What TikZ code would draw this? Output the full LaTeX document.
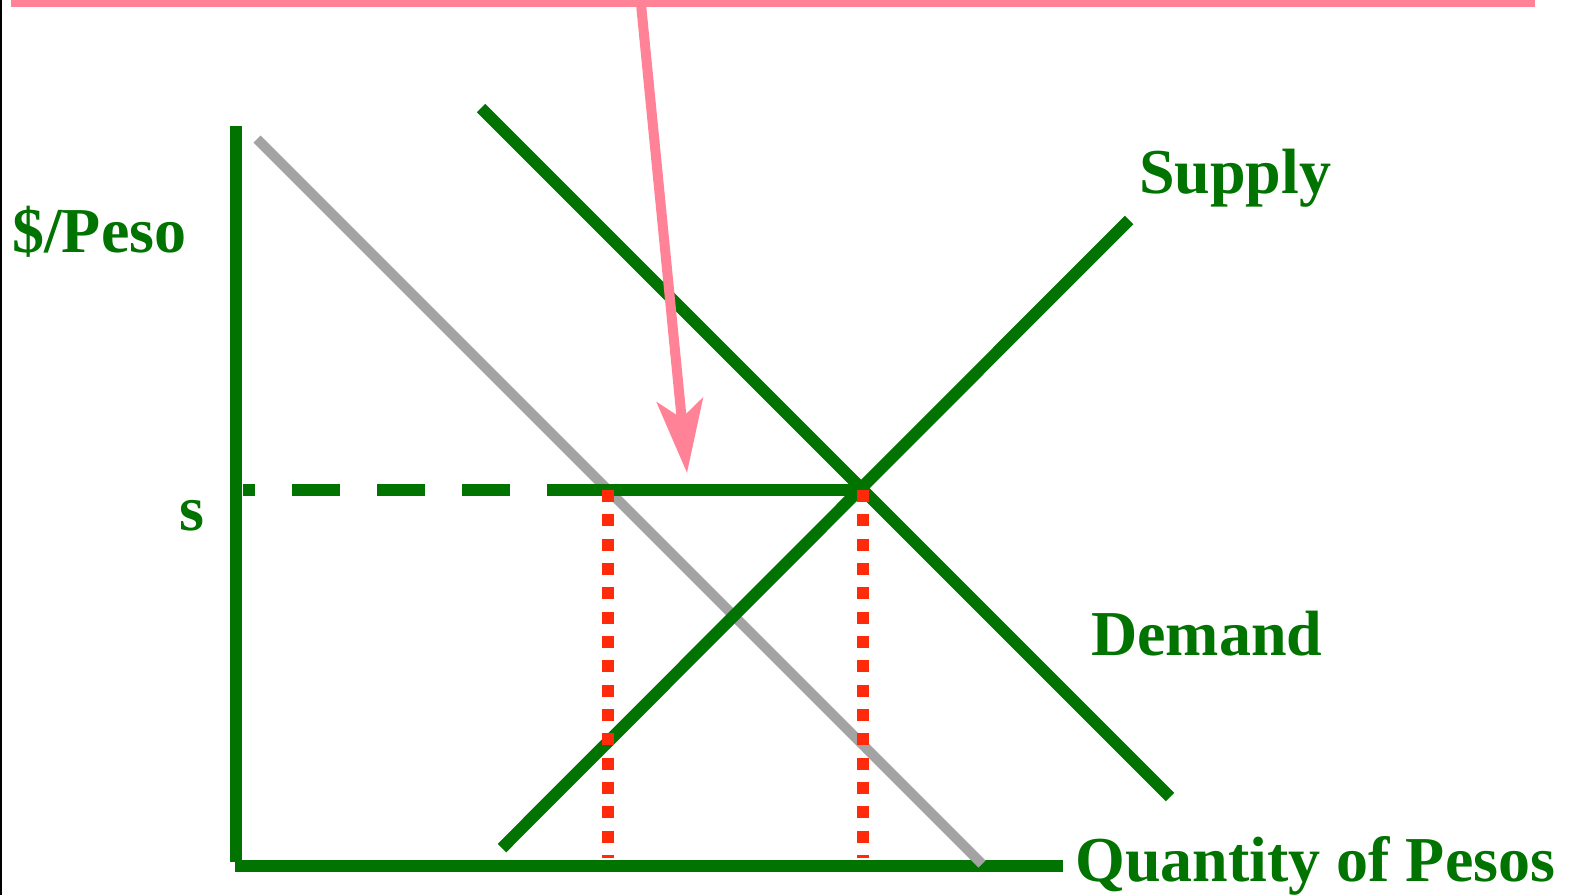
\documentclass[tikz,border=0pt]{standalone}
\usepackage{fontspec}
\setmainfont{Liberation Serif}
\usetikzlibrary{arrows.meta}
\definecolor{cgreen}{RGB}{0,115,0}
\definecolor{cgray}{RGB}{163,163,163}
\definecolor{cred}{RGB}{255,42,10}
\definecolor{cpink}{RGB}{255,130,150}
\begin{document}
\begin{tikzpicture}[x=1pt,y=-1pt,
  gline/.style={cgreen,line width=12pt},
  grayline/.style={cgray,line width=10pt},
  reddots/.style={cred,line width=12pt,dash pattern=on 12pt off 12.33pt},
  pinkline/.style={cpink,line width=7pt},
  pinkarrow/.style={cpink,line width=10pt,-{Stealth[length=73pt,width=46pt,inset=18pt]}},
  lbl/.style={anchor=base west,inner sep=0pt,text=cgreen,font=\fontsize{64}{70}\selectfont\bfseries}]
\useasboundingbox (0,0) rectangle (1578,895);
% coordinates
\coordinate (bl1) at (1.2,0);
\coordinate (bl2) at (1.2,895);
\coordinate (yTop) at (235.5,126);
\coordinate (yBot) at (235.5,862);
\coordinate (xL) at (235,866);
\coordinate (xR) at (1063,866);
\coordinate (gA) at (257,139);
\coordinate (gB) at (982,864);
\coordinate (dA) at (481,108);
\coordinate (dB) at (1170,797);
\coordinate (sA) at (502,848);
\coordinate (sB) at (1129,220);
\coordinate (hA) at (243,490);
\coordinate (hM) at (595,490);
\coordinate (eq) at (862,490);
\coordinate (rL1) at (607.5,490);
\coordinate (rL2) at (607.5,858);
\coordinate (rR1) at (863,490);
\coordinate (rR2) at (863,858);
\coordinate (pT1) at (11,3.5);
\coordinate (pT2) at (1535,3.5);
\coordinate (aS) at (641,4);
\coordinate (aT) at (687,473);
% left border
\draw[black,line width=2.4pt] (bl1) -- (bl2);
% axes
\draw[gline] (yTop) -- (yBot);
\draw[gline] (xL) -- (xR);
% gray shifted demand
\draw[grayline] (gA) -- (gB);
% dashed price line
\draw[gline,dash pattern=on 48pt off 37pt,dash phase=36pt] (hA) -- (eq);
\draw[gline] (hM) -- (eq);
% demand and supply
\draw[gline] (dA) -- (dB);
\draw[gline] (sA) -- (sB);
% red dotted quantity lines
\draw[reddots] (rL1) -- (rL2);
\draw[reddots] (rR1) -- (rR2);
% pink callout
\draw[pinkline] (pT1) -- (pT2);
\draw[pinkarrow] (aS) -- (aT);
% labels
\node[lbl] (lp) at (12,252) {\$/Peso};
\node[lbl] (ls) at (1139,193) {Supply};
\node[lbl] (ld) at (1091,655) {Demand};
\node[lbl] (lq) at (1075,881) {Quantity of Pesos};
\node[lbl] (lsv) at (179,530) {s};
\end{tikzpicture}
\end{document}
